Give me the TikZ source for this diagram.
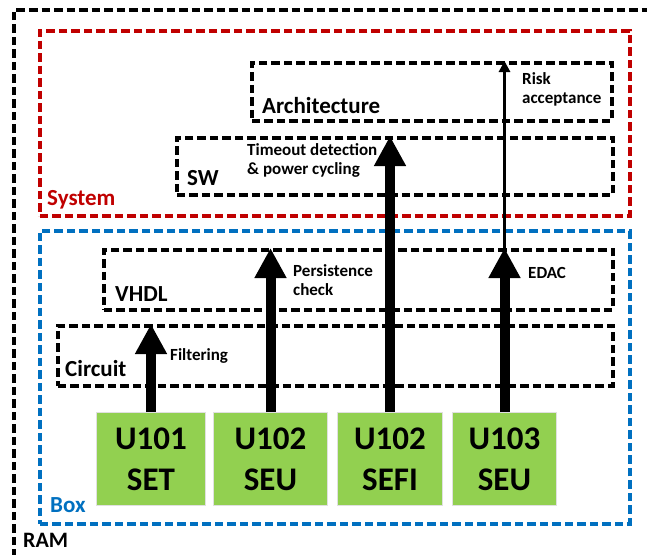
\documentclass[tikz,border=0pt]{standalone}
\usepackage{fontspec}
\setmainfont{Carlito}
\usetikzlibrary{arrows.meta}
\definecolor{sysred}{HTML}{C00000}
\definecolor{boxblue}{HTML}{0070C0}
\definecolor{unitgreen}{HTML}{92D050}

\begin{document}
\begin{tikzpicture}[x=1pt,y=-1pt,
 layer/.style={draw,line width=3.5pt,dash pattern=on 8.5pt off 4pt,inner sep=0pt,anchor=north west},
 lyrtext/.style={font=\fontsize{23}{26}\selectfont\bfseries,anchor=base west,inner sep=0pt},
 note/.style={font=\fontsize{17}{19}\selectfont\bfseries,align=left,anchor=west,inner sep=0pt},
 unit/.style={fill=unitgreen,draw=black!12,line width=1pt,minimum height=93pt,inner sep=0pt,
   anchor=north west,align=center,font=\fontsize{33}{41}\selectfont\bfseries},
 fat/.style={line width=10pt,-{Triangle[width=30pt,length=30pt]}},
 slim/.style={line width=3pt,-{Triangle[width=11pt,length=11pt]}}]
 \clip (0,0) rectangle (647,554);
 % RAM
 \draw[line width=3.5pt,dash pattern=on 8.5pt off 4pt] (14,570) -- (14,10) -- (660,10);
 \node[lyrtext,font=\fontsize{22}{26}\selectfont\bfseries] (ramlbl) at (23,547) {RAM};
 % system and box
 \node[layer,draw=sysred,minimum width=590pt,minimum height=185pt] (system) at (38,29) {};
 \node[lyrtext,text=sysred] (syslbl) at (47,205) {System};
 \node[layer,draw=boxblue,minimum width=590pt,minimum height=293pt] (box) at (38,229) {};
 \node[lyrtext,text=boxblue] (boxlbl) at (50,512) {Box};
 % layers
 \node[layer,minimum width=360pt,minimum height=58pt] (arch) at (250,61) {};
 \node[lyrtext] (archlbl) at (262,113) {Architecture};
 \node[layer,minimum width=436pt,minimum height=57pt] (sw) at (175,136) {};
 \node[lyrtext] (swlbl) at (187,185) {SW};
 \node[layer,minimum width=509pt,minimum height=60pt] (vhdl) at (102,248) {};
 \node[lyrtext] (vhdllbl) at (115,301) {VHDL};
 \node[layer,minimum width=555pt,minimum height=60pt] (circuit) at (56,324) {};
 \node[lyrtext] (circlbl) at (65,376) {Circuit};
 % units
 \node[unit,minimum width=109pt] (u101) at (96,412) {U101\\SET};
 \node[unit,minimum width=114pt] (u102a) at (213,412) {U102\\SEU};
 \node[unit,minimum width=105pt] (u102b) at (337,412) {U102\\SEFI};
 \node[unit,minimum width=104pt] (u103) at (452,412) {U103\\SEU};
 % mitigations
 \draw[fat] (u101.north) -- (u101.north |- circuit.north);
 \draw[fat] (u102a.north) -- (u102a.north |- vhdl.north);
 \draw[fat] (u102b.north) -- (u102b.north |- sw.north);
 \coordinate (edactip) at (u103.north |- vhdl.north);
 \draw[fat] (u103.north) -- (edactip);
 \draw[slim] (edactip) -- (u103.north |- arch.north);
 \node[note] (filt) at (170,356) {Filtering};
 \node[note] (pers) at (293,280) {Persistence\\check};
 \node[note] (tmo) at (247,160) {Timeout detection\\\& power cycling};
 \node[note] (risk) at (522,89) {Risk\\acceptance};
 \node[note] (edac) at (528,273) {EDAC};
\end{tikzpicture}
\end{document}
